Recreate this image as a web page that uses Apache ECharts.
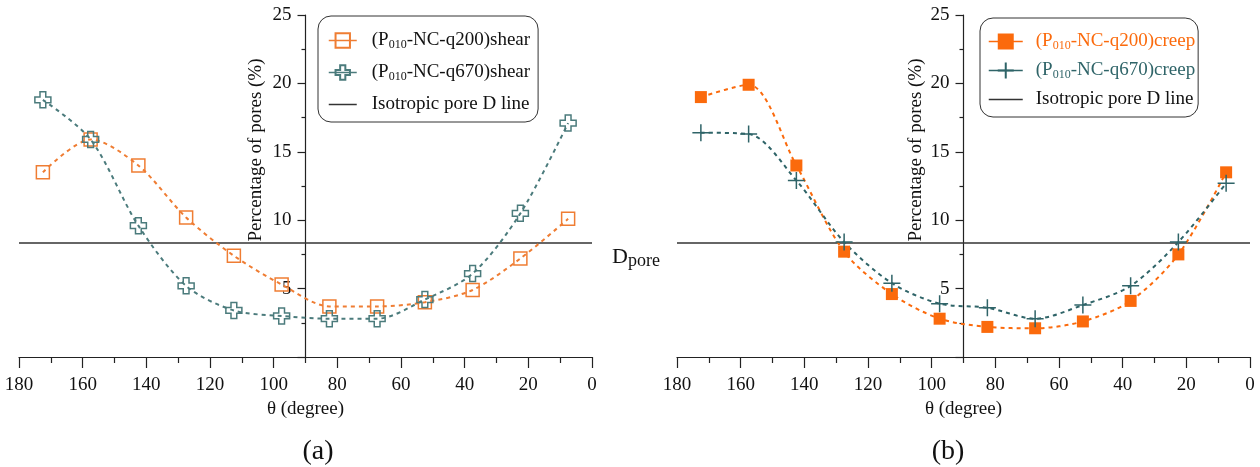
<!DOCTYPE html>
<html>
<head>
<meta charset="utf-8">
<script src="https://cdn.jsdelivr.net/npm/echarts@6/dist/echarts.min.js"></script>
<style>
html,body{margin:0;padding:0;background:#fff;}
#c{width:1260px;height:467px;}
</style>
</head>
<body>
<div id="c"></div>
<script>
// ---- data ----
const theta = [172.5, 157.5, 142.5, 127.5, 112.5, 97.5, 82.5, 67.5, 52.5, 37.5, 22.5, 7.5];
const shearQ200 = [13.5, 15.9, 14.0, 10.2, 7.4, 5.3, 3.7, 3.7, 4.0, 4.9, 7.2, 10.1];
const shearQ670 = [18.8, 15.9, 9.6, 5.2, 3.4, 3.0, 2.8, 2.8, 4.2, 6.1, 10.5, 17.1];
const creepQ200 = [19.0, 19.9, 14.0, 7.7, 4.6, 2.8, 2.2, 2.1, 2.6, 4.1, 7.5, 13.5];
const creepQ670 = [16.4, 16.3, 12.9, 8.4, 5.4, 3.9, 3.6, 2.8, 3.8, 5.2, 8.4, 12.7];
const isoLevel = 8.33;            // isotropic pore distribution line (100/12)
const thetaRange = [0, 180];
const yRange = [0, 25];
const names = {
  s200: '(P010-NC-q200)shear',
  s670: '(P010-NC-q670)shear',
  c200: '(P010-NC-q200)creep',
  c670: '(P010-NC-q670)creep',
  iso: 'Isotropic pore D line'
};

// ---- style ----
const FONT = 'Liberation Serif';
const FS = 19;
const ORANGE = '#ef7d33';
const TEAL = '#4b7b7c';
const ORANGE2 = '#fb6a0c';
const TEAL2 = '#2f6468';
const W = 1260, H = 467;
const gridL = {left: 19, right: 668, top: 15, bottom: 110};
const gridR = {left: 677, right: 10, top: 15, bottom: 110};
const gwL = W - gridL.left - gridL.right;
const gwR = W - gridR.left - gridR.right;

const hollowCross = 'path://M3.2,0 H6.8 V3.2 H10 V6.8 H6.8 V10 H3.2 V6.8 H0 V3.2 H3.2 Z';
const thinPlus = 'path://M0,5 L10,5 M5,0 L5,10';

function pts(ys){ return theta.map((t,i)=>[t, ys[i]]); }

function xAxisCfg(gi){
  return {
    gridIndex: gi, type: 'value', min: thetaRange[0], max: thetaRange[1], interval: 20, inverse: true,
    name: 'θ (degree)', nameLocation: 'middle', nameGap: 42,
    nameTextStyle: {fontFamily: FONT, fontSize: FS, color: '#111'},
    axisLine: {show: true, onZero: false, lineStyle: {color: '#222', width: 1.2}},
    axisTick: {show: true, length: 11, lineStyle: {color: '#222', width: 1.2}},
    minorTick: {show: true, splitNumber: 2, length: 6, lineStyle: {color: '#222', width: 1.2}},
    axisLabel: {fontFamily: FONT, fontSize: FS, color: '#111', margin: 19},
    splitLine: {show: false}
  };
}
function yAxisCfg(gi, gw){
  return {
    gridIndex: gi, type: 'value', min: yRange[0], max: yRange[1], interval: 5,
    position: 'left', offset: -gw/2,
    axisLine: {show: true, onZero: false, lineStyle: {color: '#222', width: 1.2}},
    axisTick: {show: true, length: 8, lineStyle: {color: '#222', width: 1.2}},
    minorTick: {show: true, splitNumber: 2, length: 4, lineStyle: {color: '#222', width: 1.2}},
    axisLabel: {fontFamily: FONT, fontSize: FS, color: '#111', margin: 14,
      formatter: v => v === 0 ? '' : String(v)},
    splitLine: {show: false}
  };
}

function lineSeries(name, gi, ys, color, symbol, size, filled){
  return {
    name, type: 'line', xAxisIndex: gi, yAxisIndex: gi, data: pts(ys),
    smooth: 0.3, symbol, symbolSize: size, color,
    lineStyle: {color, width: 2, type: [4, 4]},
    itemStyle: filled ? {color, borderColor: color, borderWidth: 0}
                      : {color: 'rgba(255,255,255,0)', borderColor: color, borderWidth: 1.5},
    z: 3
  };
}
function isoSeries(gi){
  return {
    name: names.iso, type: 'line', xAxisIndex: gi, yAxisIndex: gi,
    data: [[thetaRange[0], isoLevel], [thetaRange[1], isoLevel]],
    symbol: 'none', color: '#333', lineStyle: {color: '#333', width: 1.5, type: 'solid'}, z: 2
  };
}

const subFmt = name => name.replace('P010', 'P{s|010}');
const richSub = {s: {fontSize: 12, padding: [9, 0, 0, 0], fontFamily: FONT}};
const isoLegendItem = {name: names.iso, textStyle: {color: '#111'},
  itemStyle: {color: 'rgba(0,0,0,0)', borderColor: 'rgba(0,0,0,0)', borderWidth: 0}};

const chart = echarts.init(document.getElementById('c'), null, {renderer: 'canvas'});
chart.setOption({
  animation: false,
  backgroundColor: '#fff',
  grid: [
    Object.assign({containLabel: false}, gridL),
    Object.assign({containLabel: false}, gridR)
  ],
  xAxis: [xAxisCfg(0), xAxisCfg(1)],
  yAxis: [yAxisCfg(0, gwL), yAxisCfg(1, gwR)],
  legend: [
    {
      orient: 'vertical', left: 318, top: 16,
      data: [names.s200, names.s670, isoLegendItem],
      itemWidth: 28, itemHeight: 18, itemGap: 9,
      padding: [13, 8, 6, 10],
      borderColor: '#333', borderWidth: 1, borderRadius: 13,
      lineStyle: {type: 'solid', width: 1.5},
      formatter: subFmt,
      textStyle: {fontFamily: FONT, fontSize: FS, lineHeight: 23, color: '#111', padding: [0, 0, 0, 10], rich: richSub}
    },
    {
      orient: 'vertical', left: 980, top: 18,
      data: [
        {name: names.c200, textStyle: {color: ORANGE2}},
        {name: names.c670, textStyle: {color: TEAL2}},
        isoLegendItem
      ],
      itemWidth: 34, itemHeight: 20, itemGap: 6,
      padding: [12, 3, 6, 8],
      borderColor: '#333', borderWidth: 1, borderRadius: 13,
      lineStyle: {type: 'solid', width: 1.5},
      formatter: subFmt,
      textStyle: {fontFamily: FONT, fontSize: FS, lineHeight: 23, color: '#111', padding: [0, 0, 0, 8], rich: richSub}
    }
  ],
  series: [
    lineSeries(names.s200, 0, shearQ200, ORANGE, 'rect', 13, false),
    lineSeries(names.s670, 0, shearQ670, TEAL, hollowCross, 16, false),
    isoSeries(0),
    lineSeries(names.c200, 1, creepQ200, ORANGE2, 'rect', 12, true),
    lineSeries(names.c670, 1, creepQ670, TEAL2, thinPlus, 17, false),
    isoSeries(1)
  ],
  graphic: [
    {type: 'text', x: gridL.left + gwL/2 - 49, y: 150, rotation: Math.PI/2,
      style: {text: 'Percentage of pores (%)', font: FS + 'px "Liberation Serif"', fill: '#111', align: 'center', verticalAlign: 'middle'}},
    {type: 'text', x: gridR.left + gwR/2 - 47, y: 150, rotation: Math.PI/2,
      style: {text: 'Percentage of pores (%)', font: FS + 'px "Liberation Serif"', fill: '#111', align: 'center', verticalAlign: 'middle'}},
    {type: 'text', x: 612, y: 257,
      style: {text: '{d|D}{p|pore}', fill: '#111', verticalAlign: 'middle',
        rich: {d: {fontFamily: FONT, fontSize: 22}, p: {fontFamily: FONT, fontSize: 18, padding: [9, 0, 0, 0]}}}},
    {type: 'text', x: 318, y: 452,
      style: {text: '(a)', font: '28px "Liberation Serif"', fill: '#111', align: 'center', verticalAlign: 'middle'}},
    {type: 'text', x: 948, y: 452,
      style: {text: '(b)', font: '28px "Liberation Serif"', fill: '#111', align: 'center', verticalAlign: 'middle'}}
  ]
});
</script>
</body>
</html>
